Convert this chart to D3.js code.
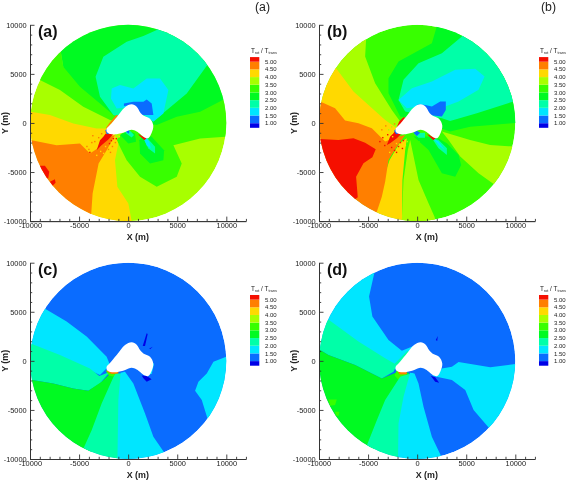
<!DOCTYPE html>
<html>
<head>
<meta charset="utf-8">
<script src="https://cdn.jsdelivr.net/npm/d3@7"></script>
<style>
    body { margin: 0; background: #fff; }
    svg { display: block; filter: blur(0.35px); font-family: "Liberation Sans", Arial, sans-serif; }
    .axis text { font-size: 7.4px; fill: #222; font-family: "Liberation Sans", Arial, sans-serif; }
    .axis path, .axis line { stroke: #333; stroke-width: 0.9; }
</style>
</head>
<body>
<div id="container"></div>
<script>
const width = 567;
const height = 482;

// tick values
const xMajor = [-10000, -5000, 0, 5000, 10000];
const yMajor = [-10000, -5000, 0, 5000, 10000];
const xMinor = [-9000, -8000, -7000, -6000, -4000, -3000, -2000, -1000, 1000, 2000, 3000, 4000, 6000, 7000, 8000, 9000, 11000, 12000];
const yMinor = [-9000, -8000, -7000, -6000, -4000, -3000, -2000, -1000, 1000, 2000, 3000, 4000, 6000, 7000, 8000, 9000];

// contour levels and their colours
const levels = [1, 1.5, 2, 2.5, 3, 3.5, 4, 4.5, 5];
const levelColors = ["#0000e6", "#0a6cff", "#00e6ff", "#00ffa8", "#00fa22", "#38ff00", "#a8ff00", "#ffd900", "#ff7f00", "#f50f00"];
const legendEdges = [0.7, 1, 1.5, 2, 2.5, 3, 3.5, 4, 4.5, 5, 5.3];
const legendTicks = [5, 4.5, 4, 3.5, 3, 2.5, 2, 1.5, 1];

// island outline, metres
const island = [[-2190, -600], [-1850, -220], [-1170, 590], [-320, 1610], [360, 1900], [870, 1650], [1210, 1100], [1550, 760], [2230, 420], [2560, -260], [2400, -1000], [2050, -1550], [1720, -1500], [870, -870], [360, -700], [-300, -930], [-1170, -1150], [-1800, -1130], [-2150, -950]];

// panel a: value, outline in metres, painted in order
const aRegions = [
    [3.25, [[-8990, 4370], [-6950, 3350], [-4570, 1650], [-1850, 290], [530, -50], [0, 5000], [-6610, 5730], [-6850, 7190], [-9670, 9130], [-11000, 5000]]],
    [3.25, [[9910, -1410], [7330, -1580], [4610, -2260], [5460, -4130], [4950, -5490], [2910, -6510], [1210, -5490], [-150, -3790], [-1170, -1750], [-660, -1070], [2910, 970], [9000, 2330], [11500, 2330], [11500, -1500]]],
    [2.75, [[-6850, 7190], [-9670, 10830], [10050, 10830], [11410, 2330], [9640, 2330], [7330, 1140], [4950, 630], [2910, -220], [530, 290], [-1510, 800], [-2870, 1990], [-4910, 3690], [-6610, 5730]]],
    [2.75, [[1140, -1750], [1210, -3110], [2230, -4130], [3590, -3790], [3660, -2770], [2400, -1410], [1550, -1240]]],
    [2.25, [[1550, -1580], [2060, -2600], [2740, -3110], [2740, -2430], [1890, -1480]]],
    [1.75, [[1550, -1480], [1890, -2260], [2300, -2600], [2160, -1920], [1820, -1480]]],
    [2.75, [[-830, -1240], [20, -2090], [800, -1920], [700, -1070], [20, -800]]],
    [2.25, [[-320, -970], [360, -1480], [600, -1240], [190, -800]]],
    [1.25, [[-220, -900], [90, -1100], [120, -700], [-100, -650]]],
    [2.25, [[2910, 9470], [1550, 8860], [-150, 8280], [-2530, 6750], [-3320, 4710], [-2870, 2670], [-1510, 800], [530, 290], [2910, 460], [5970, 3010], [8010, 5830], [11410, 6750], [7330, 11170], [2910, 11170]]],
    [1.75, [[-1680, 3520], [-830, 3860], [530, 3520], [1890, 4540], [3250, 4540], [4100, 3350], [3590, 970], [2570, 120], [530, 1650], [-1170, 1480], [-1750, 2500]]],
    [1.25, [[-430, 1990], [530, 2160], [1550, 2160], [1890, 2400], [2400, 1990], [2570, 800], [1210, 800], [530, 1820], [-430, 1720]]],
    [4.25, [[-9910, 1140], [-7970, 800], [-5590, -50], [-3210, -560], [-1850, -560], [-1340, -1240], [-2500, -3000], [-4000, -3500], [-6270, -2770], [-9840, -2430], [-11370, -2430], [-11370, 1140]]],
    [4.25, [[-1340, -1240], [-1000, -2090], [-1340, -3790], [-1100, -6510], [20, -8210], [360, -9980], [390, -11270], [-4230, -11270], [-5000, -6000], [-4000, -3000]]],
    [4.75, [[-11370, -1580], [-9840, -1750], [-7290, -2260], [-4910, -2090], [-3890, -3110], [-2870, -2430], [-1850, -1410], [-1340, -1240], [-2190, -2770], [-3010, -4130], [-3280, -5490], [-3620, -7190], [-3760, -9230], [-4230, -11270], [-9670, -11270], [-11370, -7870]]],
    [5.1, [[-8990, -4370], [-8480, -4370], [-8040, -4980], [-8140, -5660], [-8580, -5490], [-8920, -4980]]],
    [5.1, [[-7970, -6000], [-7460, -5730], [-7390, -6100], [-7700, -6410]]],
    [5.1, [[-2290, -1070], [-1510, -1140], [-2020, -1680], [-2700, -2260], [-3210, -2770], [-2870, -1750], [-2530, -1410]]],
    [4.75, [[-2250, -500], [-1850, 60], [-1200, 800], [-1000, 750], [-1850, -220], [-2100, -700]]],
    [5.1, [[1000, -1150], [1650, -1750], [2150, -1300], [1650, -1450], [1200, -1200]]],
    [1.25, [[-2350, -800], [-2150, -600], [-1950, -1100], [-2150, -1150]]]
];
const aSpecks = [
    [-3000, -1500, 4.75], [-2700, -1100, 4.75], [-2300, -900, 4.75], [-3400, -1900, 4.75], [-2500, -1600, 5.1], [-3700, -2000, 4.75],
    [-1700, -1800, 5.1], [-1500, -1600, 5.1], [-1900, -2100, 5.1], [-1600, -2400, 4.75], [-1300, -2000, 4.75], [-1200, -1600, 5.1],
    [-3900, -3000, 5.1], [-4000, -2700, 4.75], [-4200, -2400, 4.75], [-2800, -2900, 4.25], [-3200, -3300, 4.25], [-2500, -3100, 4.25],
    [-1800, -3000, 4.75], [-3600, -1300, 4.75], [-2000, -800, 4.25], [-900, -1400, 4.25], [-2300, -2400, 4.25], [-2000, -2700, 4.75]
];

// panel b
const bRegions = [
    [3.75, [[-5200, 8530], [-5300, 6770], [-4280, 4050], [-2580, 1330], [-1730, 140], [-2240, -1050], [-8000, -1000], [-11500, 5500], [-7000, 9000]]],
    [4.25, [[-8260, 5580], [-6490, 3200], [-4960, 1840], [-3260, 310], [-2070, -540], [-2580, -1730], [-3300, -2300], [-10060, -1050], [-11760, 2180], [-10060, 5580]]],
    [4.25, [[-4400, -9040], [-3500, -5810], [-2800, -3770], [-1800, -2070], [-1050, -1560], [-1220, -2750], [-1500, -5810], [-1560, -11250], [-4960, -11250]]],
    [4.75, [[-11760, 2350], [-9890, 2180], [-8360, 1500], [-7340, 240], [-5980, -30], [-4620, -540], [-3260, -1900], [-1900, -1390], [-1220, -1220], [-2070, -2410], [-2920, -3770], [-3260, -5980], [-3600, -7510], [-4110, -9040], [-4960, -11250], [-10060, -11250], [-11760, -7850]]],
    [5.1, [[-11760, -1630], [-9890, -1630], [-8020, -1730], [-6490, -1560], [-5300, -2010], [-4220, -2690], [-4560, -3500], [-5470, -4110], [-6220, -5470], [-6050, -7580], [-7340, -8530], [-10060, -7850]]],
    [3.75, [[-1560, -9890], [-1390, -5810], [-950, -2750], [-710, -1730], [140, -5810], [1160, -8190], [1770, -9550], [2180, -11250], [-1560, -11250]]],
    [3.75, [[9800, -2400], [7440, -2240], [5400, -1730], [3700, -1220], [2520, -880], [3200, -1730], [4390, -3430], [6260, -5130], [7790, -6220], [10340, -7850], [11700, -2310]]],
    [2.75, [[2010, 9890], [1500, 8130], [-1900, 6260], [-2920, 4560], [-2920, 3030], [-1730, 650], [140, 310], [2520, -600], [3360, -880], [5400, -380], [10000, 0], [11700, -100], [11700, 9150], [5580, 10850], [2010, 11190]]],
    [2.25, [[4560, 8810], [2520, 7110], [140, 6090], [-1390, 4390], [-1900, 2350], [-1220, 1160], [2520, 480], [3360, 200], [6080, 990], [9750, 2170], [11700, 2180], [11700, 9150], [5580, 10850]]],
    [1.75, [[-1900, 2350], [-540, 3540], [1500, 4220], [3880, 5410], [5920, 5510], [6870, 4730], [6260, 3370], [4220, 2180], [2860, 1670], [2520, 650], [140, 1670], [-1050, 1500]]],
    [1.25, [[-30, 1900], [820, 1840], [1500, 1670], [2350, 2180], [2920, 2180], [2920, 1330], [2520, 650], [1160, 820], [480, 1670]]],
    [2.75, [[-370, -1390], [1160, -2750], [2520, -5130], [3880, -5470], [4490, -4280], [4220, -3260], [3030, -2070], [1840, -1390]]],
    [2.25, [[1500, -1560], [2180, -2580], [3030, -3260], [3030, -2580], [2180, -1730]]],
    [1.75, [[1600, -1560], [2350, -2410], [2790, -2750], [2180, -1900]]],
    [2.25, [[-370, -1050], [130, -1500], [800, -1500], [800, -1000]]],
    [1.25, [[-370, -990], [-30, -1330], [310, -990], [-30, -800]]],
    [5.1, [[-2170, -650], [-1830, 140], [-1390, 580], [-1050, 480], [-1560, -1050], [-2070, -1560], [-2750, -2070], [-3090, -2240], [-2750, -1390], [-2410, -1050]]],
    [5.1, [[1000, -1150], [1650, -1750], [2150, -1300], [1650, -1450], [1200, -1200]]],
    [1.25, [[-2350, -800], [-2150, -600], [-1950, -1100], [-2150, -1150]]]
];
const bSpecks = [
    [-3000, -1200, 5.1], [-2800, -1800, 5.1], [-3300, -2300, 5.1], [-2600, -2500, 5.1], [-2300, -2800, 5.1], [-1900, -2400, 5.1],
    [-1700, -2000, 5.1], [-1400, -1800, 5.1], [-1500, -2600, 5.1], [-2100, -2100, 4.25], [-2500, -1400, 4.25], [-3500, -1500, 5.1],
    [-3800, -1900, 5.1], [-2600, -400, 3.75], [-2900, -700, 3.75], [-3200, -300, 4.75], [-3600, -700, 4.75], [-2300, -100, 4.75],
    [-1200, -2300, 4.25], [-1000, -1900, 3.75], [-2100, -3000, 5.1], [-2800, -3000, 4.25], [-600, -1700, 3.25], [200, -1900, 3.25]
];

// panel c
const cRegions = [
    [1.75, [[-8420, 5290], [-6270, 4000], [-4230, 2470], [-2190, 430], [-1850, -430], [-2870, -1450], [-6000, 0], [-11370, 1720], [-11030, 5290]]],
    [2.25, [[-9810, 1720], [-6950, 600], [-3890, -770], [-2940, -1550], [-1850, -1110], [-2870, -2300], [-4060, -3040], [-5590, -2810], [-7630, -2300], [-9780, -1960], [-11370, -1960], [-11370, 1720]]],
    [2.75, [[-11370, -1960], [-9780, -1960], [-7630, -2300], [-5590, -2810], [-4060, -3040], [-2700, -2130], [-1680, -1170], [-1000, -1280], [-2000, -4340], [-3000, -7060], [-3600, -8830], [-5000, -11480], [-11370, -11480]]],
    [2.25, [[-4510, -8830], [-3720, -7060], [-2700, -4340], [-1340, -1280], [-500, -1280], [-700, -4000], [-800, -9780], [-800, -11480], [-5590, -11480]]],
    [1.75, [[-770, -1210], [-1000, -4000], [-1110, -11480], [4270, -11480], [3620, -9270], [2570, -7740], [1720, -5360], [530, -2300], [-320, -1110]]],
    [1.75, [[9980, 430], [8690, -90], [8010, -1280], [7160, -2130], [6820, -3040], [7500, -4000], [8080, -5870], [10730, -6720], [12090, 430]]],
    [1.75, [[1550, -1450], [2400, -1340], [2640, -260], [1890, -260]]],
    [0.9, [[1480, 1510], [1890, 2800], [1990, 2730], [1720, 1510]]],
    [0.9, [[2160, 1270], [2500, 1440], [2230, 1190]]],
    [0.9, [[1380, -1500], [1890, -1540], [2400, -1880], [1890, -2120], [1550, -1780]]],
    [3.25, [[-2300, -1000], [-1000, -1000], [-1500, -1600], [-1950, -1500]]],
    [4.75, [[-2250, -1000], [-1700, -1330], [-1000, -1300], [-1000, -900], [-1900, -900]]]
];

// panel d
const dRegions = [
    [1.75, [[-4350, 11000], [-4350, 8990], [-4900, 6550], [-4560, 4510], [-2920, 2130], [-1560, 1040], [-370, 1510], [0, 1000], [-1900, -940], [-9000, 2000], [-11500, 4170], [-10000, 11000]]],
    [2.25, [[-8980, 4170], [-5980, 1960], [-3260, 260], [-2070, -430], [-2410, -1110], [-3600, -1790], [-6320, -430], [-9040, 600], [-9890, 1110], [-11760, 1110], [-11760, 4170]]],
    [2.75, [[-11760, 1110], [-9890, 1110], [-9040, 600], [-6320, -430], [-3600, -1790], [-2070, -1170], [-800, -1210], [-2500, -3660], [-3400, -6040], [-4200, -8480], [-5600, -11480], [-11760, -11480]]],
    [3.25, [[-2070, -940], [-1050, -1280], [-1730, -2130], [-2300, -1500]]],
    [3.25, [[-9040, -3930], [-8190, -3930], [-8360, -4510], [-8870, -4570]]],
    [3.25, [[-8360, -5190], [-7920, -5190], [-8020, -5630], [-8290, -5530]]],
    [2.25, [[-5070, -8480], [-4110, -6040], [-3260, -4000], [-1730, -1620], [-400, -1210], [-1100, -3660], [-1600, -6380], [-1700, -9780], [-1700, -11480], [-5980, -11480]]],
    [1.75, [[-710, -1210], [-1390, -3660], [-1900, -6380], [-1970, -11480], [3200, -11480], [2450, -9710], [1500, -7740], [650, -4680], [140, -2300], [-270, -1280]]],
    [1.75, [[10000, -320], [7450, -660], [4220, -120], [3540, -600], [2520, -770], [2180, -1280], [1500, -1510], [3540, -1960], [4900, -2980], [5750, -5020], [7280, -6780], [10340, -8760], [11700, -320]]],
    [2.25, [[-2300, -300], [-1000, 1000], [-800, 900], [-1900, -500]]],
    [0.9, [[1390, -1510], [1840, -1680], [2240, -2230], [1840, -2130]]],
    [0.9, [[1900, 2130], [2110, 2530], [2040, 2020]]],
    [4.75, [[-2150, -700], [-1800, -1400], [-1050, -1360], [-1050, -1100], [-1700, -1100]]]
];

const baseValues = [3.75, 3.25, 1.25, 1.25];
const panelNames = ["(a)", "(b)", "(c)", "(d)"];
const panelRegions = [aRegions, bRegions, cRegions, dRegions];
const panelSpecks = [aSpecks, bSpecks, [], []];
const cornerNames = ["(a)", "(b)"];

let color = d3.scaleThreshold().domain(levels).range(levelColors);

let svg = d3.select("#container").append("svg")
    .attr("width", width)
    .attr("height", height)
    .attr("viewBox", `0 0 ${width} ${height}`);

cornerNames.forEach((name, i) => {
    svg.append("text")
        .attr("x", i == 0 ? 255 : 541)
        .attr("y", 11)
        .attr("font-size", 12.3)
        .attr("fill", "#222")
        .text(name);
});

function drawPanel(i) {
    let left = i % 2 == 0 ? 30 : 319;
    let top = i < 2 ? 24.8 : 262.7;
    let w = 196.3;
    let h = 196.3;

    let x = d3.scaleLinear().domain([-10000, 12000]).range([left, left + w * 1.1]);
    let y = d3.scaleLinear().domain([-10000, 10000]).range([top + h, top]);

    let g = svg.append("g");
    let clipId = "disc" + i;
    let r = x(10000) - x(0);

    g.append("clipPath").attr("id", clipId)
        .append("circle")
        .attr("cx", x(0))
        .attr("cy", y(0))
        .attr("r", r);

    let plot = g.append("g").attr("clip-path", `url(#${clipId})`);

    plot.append("circle")
        .attr("cx", x(0))
        .attr("cy", y(0))
        .attr("r", r)
        .attr("fill", color(baseValues[i]));

    let shape = d3.line().x(d => x(d[0])).y(d => y(d[1])).curve(d3.curveLinearClosed);

    plot.selectAll("path.region")
        .data(panelRegions[i])
        .join("path")
        .attr("class", "region")
        .attr("d", d => shape(d[1]))
        .attr("fill", d => color(d[0]));

    plot.selectAll("rect.speck")
        .data(panelSpecks[i])
        .join("rect")
        .attr("class", "speck")
        .attr("x", d => x(d[0]) - 0.7)
        .attr("y", d => y(d[1]) - 0.7)
        .attr("width", 1.4)
        .attr("height", 1.4)
        .attr("fill", d => color(d[2]));

    let outline = d3.line().x(d => x(d[0])).y(d => y(d[1])).curve(d3.curveCatmullRomClosed);
    plot.append("path")
        .attr("d", outline(island))
        .attr("fill", "#fff");

    // minor ticks first, major ticks with labels on top
    g.append("g").attr("class", "axis")
        .attr("transform", `translate(0,${top + h})`)
        .call(d3.axisBottom(x).tickValues(xMinor).tickFormat("").tickSizeInner(-2.2).tickSizeOuter(0));
    g.append("g").attr("class", "axis")
        .attr("transform", `translate(${left},0)`)
        .call(d3.axisLeft(y).tickValues(yMinor).tickFormat("").tickSizeInner(-2.2).tickSizeOuter(0));
    g.append("g").attr("class", "axis")
        .attr("transform", `translate(0,${top + h})`)
        .call(d3.axisBottom(x).tickValues(xMajor).tickFormat(d => String(d)).tickSizeInner(-4.5).tickSizeOuter(0).tickPadding(2));
    g.append("g").attr("class", "axis")
        .attr("transform", `translate(${left},0)`)
        .call(d3.axisLeft(y).tickValues(yMajor).tickFormat(d => String(d)).tickSizeInner(-4.5).tickSizeOuter(0).tickPadding(3.3));

    g.append("text")
        .attr("x", x(0) + 9.6)
        .attr("y", top + h + 19)
        .attr("text-anchor", "middle")
        .attr("font-size", 8.9)
        .attr("font-weight", "bold")
        .attr("fill", "#222")
        .text("X (m)");

    g.append("text")
        .attr("transform", `translate(${left - 21.8},${y(0)}) rotate(-90)`)
        .attr("text-anchor", "middle")
        .attr("font-size", 8.9)
        .attr("font-weight", "bold")
        .attr("fill", "#222")
        .text("Y (m)");

    g.append("text")
        .attr("x", left + 8)
        .attr("y", top + 11.8)
        .attr("font-size", 16)
        .attr("font-weight", "bold")
        .attr("fill", "#111")
        .text(panelNames[i]);

    // legend
    let barLeft = left + 220;
    let ly = d3.scaleLinear().domain([1, 5]).range([top + 98.4, top + 36.9]);
    let bands = d3.pairs(legendEdges);

    g.selectAll("rect.band")
        .data(bands)
        .join("rect")
        .attr("class", "band")
        .attr("x", barLeft)
        .attr("y", d => ly(d[1]))
        .attr("width", 9.3)
        .attr("height", d => ly(d[0]) - ly(d[1]))
        .attr("fill", d => color((d[0] + d[1]) / 2));

    g.selectAll("text.lab")
        .data(legendTicks)
        .join("text")
        .attr("class", "lab")
        .attr("x", barLeft + 15)
        .attr("y", d => ly(d))
        .attr("dy", "0.35em")
        .attr("font-size", 6)
        .attr("fill", "#222")
        .text(d3.format(".2f"));

    let title = g.append("text")
        .attr("x", barLeft + 1)
        .attr("y", ly(5) - 9)
        .attr("font-size", 6.4)
        .attr("fill", "#222");
    title.append("tspan").text("T");
    title.append("tspan").attr("font-size", 3.8).attr("dy", 1.2).text("rot");
    title.append("tspan").attr("dy", -1.2).text(" / T");
    title.append("tspan").attr("font-size", 3.8).attr("dy", 1.2).text("trans");
}

panelNames.forEach((name, i) => drawPanel(i));
</script>
</body>
</html>
